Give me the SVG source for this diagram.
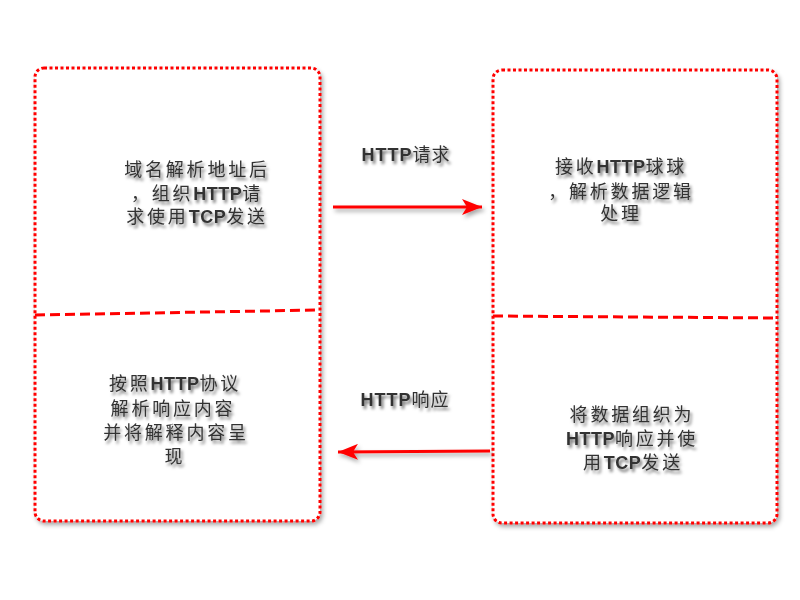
<svg xmlns="http://www.w3.org/2000/svg" width="800" height="600" viewBox="0 0 800 600">
<defs>
<filter id="sh" x="-20%" y="-20%" width="140%" height="140%">
<feDropShadow dx="2" dy="3" stdDeviation="2" flood-color="#000" flood-opacity="0.35"/>
</filter>
<filter id="tsh" x="-20%" y="-40%" width="140%" height="180%">
<feDropShadow dx="2" dy="3" stdDeviation="1.8" flood-color="#000" flood-opacity="0.55"/>
</filter>
<marker id="ah" viewBox="0 0 20 16" refX="20" refY="8" markerWidth="20" markerHeight="16" markerUnits="userSpaceOnUse" orient="auto">
<path d="M0,0 L20,8 L0,16 L5,8 Z" fill="#ff0000"/>
</marker>
</defs>
<style>
.box{fill:#fff;stroke:#ff0000;stroke-width:3;stroke-dasharray:3 2.5;}
.div{fill:none;stroke:#ff0000;stroke-width:3;stroke-dasharray:10 5;}
.t{font-family:"Liberation Sans","Noto Sans CJK SC",sans-serif;font-size:18px;fill:#333;text-anchor:middle;letter-spacing:2.8px;}
.b{font-weight:bold;letter-spacing:0.5px;}
.lbl{font-family:"Liberation Sans","Noto Sans CJK SC",sans-serif;font-size:18px;fill:#333;text-anchor:middle;letter-spacing:1px;}
.conn{stroke:#ff0000;stroke-width:3;fill:none;}
</style>
<rect width="800" height="600" fill="#fff"/>

<g id="client" filter="url(#sh)">
<rect class="box" x="35" y="68" width="285" height="453" rx="9"/>
<path class="div" d="M35,315 L320,310"/>
</g>
<g id="server" filter="url(#sh)">
<rect class="box" x="493" y="70" width="284" height="453" rx="9"/>
<path class="div" d="M493,316 L777,318"/>
</g>

<g id="client-send" filter="url(#tsh)">
<text class="t" x="197" y="176">域名解析地址后</text>
<text class="t" x="197" y="200">，组织<tspan class="b">HTTP</tspan>请</text>
<text class="t" x="197" y="223">求使用<tspan class="b">TCP</tspan>发送</text>
</g>
<g id="server-recv" filter="url(#tsh)">
<text class="t" x="621" y="173">接收<tspan class="b">HTTP</tspan>球球</text>
<text class="t" x="621" y="198">，解析数据逻辑</text>
<text class="t" x="621" y="220">处理</text>
</g>
<g id="client-render" filter="url(#tsh)">
<text class="t" x="175" y="390">按照<tspan class="b">HTTP</tspan>协议</text>
<text class="t" x="173" y="415">解析响应内容</text>
<text class="t" x="176" y="439">并将解释内容呈</text>
<text class="t" x="175" y="463">现</text>
</g>
<g id="server-resp" filter="url(#tsh)">
<text class="t" x="632" y="421">将数据组织为</text>
<text class="t" x="632" y="445"><tspan class="b">HTTP</tspan>响应并使</text>
<text class="t" x="633" y="469">用<tspan class="b">TCP</tspan>发送</text>
</g>

<g id="connectors" filter="url(#sh)">
<line class="conn" x1="333" y1="207" x2="482" y2="207" marker-end="url(#ah)"/>
<line class="conn" x1="490" y1="451" x2="338" y2="452" marker-end="url(#ah)"/>
</g>
<g id="labels" filter="url(#tsh)">
<text class="lbl" x="406" y="161"><tspan font-weight="bold">HTTP</tspan>请求</text>
<text class="lbl" x="405" y="406"><tspan font-weight="bold">HTTP</tspan>响应</text>
</g>
</svg>
